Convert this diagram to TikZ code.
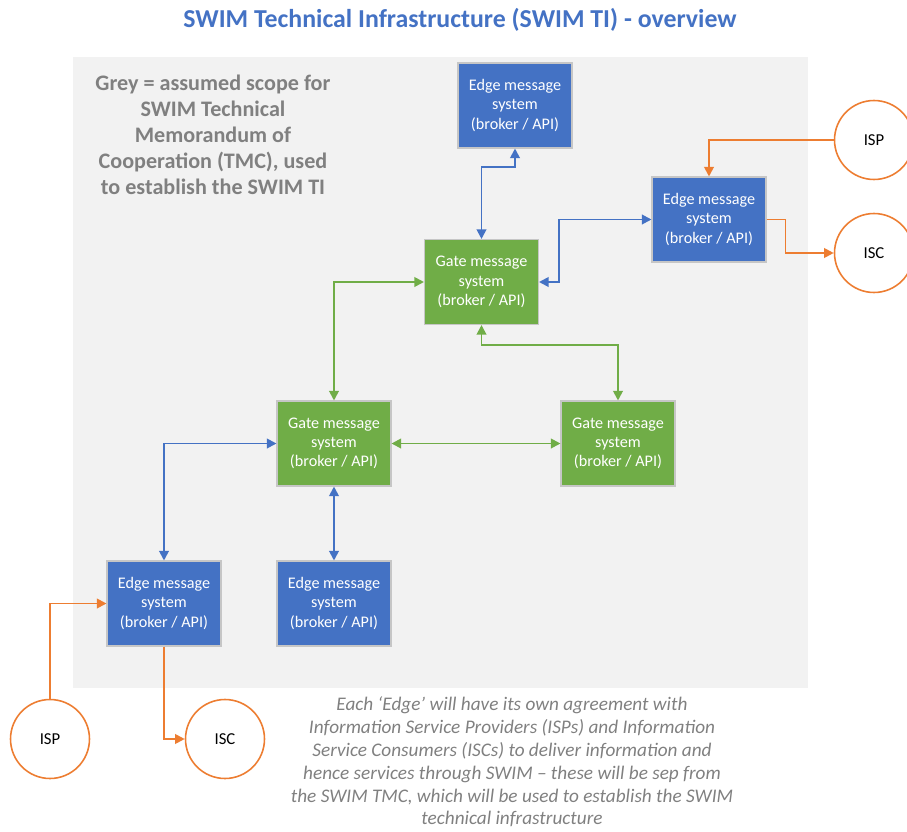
\documentclass[tikz,border=0pt]{standalone}
\usepackage{fontspec}
\setmainfont{Carlito}
\usepackage{tikz}
\usepackage{xcolor}
\usetikzlibrary{arrows.meta}

\definecolor{swimblue}{HTML}{4472C4}
\definecolor{swimgreen}{HTML}{70AD47}
\definecolor{swimorange}{HTML}{ED7D31}
\definecolor{scopegrey}{HTML}{F2F2F2}
\definecolor{notegrey}{HTML}{808080}

\begin{document}
\begin{tikzpicture}[x=0.02cm, y=-0.02cm,
  edgebox/.style={rectangle, fill=swimblue, draw=gray!45, line width=0.6pt, text=white,
    minimum width=2.28cm, minimum height=1.7cm, align=center, inner sep=1pt,
    font=\fontsize{9.2}{10.9}\selectfont},
  gatebox/.style={edgebox, fill=swimgreen},
  party/.style={circle, draw=swimorange, fill=white, line width=0.9pt,
    minimum size=1.58cm, font=\fontsize{9.5}{11}\selectfont},
  bluelink/.style={draw=swimblue, line width=1.1pt, {Triangle[length=5.5pt,width=5.5pt]}-{Triangle[length=5.5pt,width=5.5pt]}},
  greenlink/.style={bluelink, draw=swimgreen},
  orangelink/.style={draw=swimorange, line width=1.1pt, -{Triangle[length=5.5pt,width=5.5pt]}}]

  \useasboundingbox (0,0) rectangle (907,832);

  % grey scope of the TMC
  \fill[scopegrey] (73,57) rectangle (808,688);

  \node[text=swimblue, font=\fontsize{14.7}{17}\selectfont\bfseries] (title) at (460,20)
    {SWIM Technical Infrastructure (SWIM TI) - overview};
  \node[text=notegrey, align=center, font=\fontsize{12.6}{14.8}\selectfont\bfseries] (scope) at (213,135)
    {Grey = assumed scope for\\SWIM Technical\\Memorandum of\\Cooperation (TMC), used\\to establish the SWIM TI};

  \node[edgebox] (edge_top) at (515,105.5) {Edge message\\system\\(broker / API)};
  \node[gatebox] (gate_top) at (481.5,282) {Gate message\\system\\(broker / API)};
  \node[edgebox] (edge_right) at (709,219.5) {Edge message\\system\\(broker / API)};
  \node[gatebox] (gate_left) at (334,443.5) {Gate message\\system\\(broker / API)};
  \node[gatebox] (gate_right) at (618,443.5) {Gate message\\system\\(broker / API)};
  \node[edgebox] (edge_mid) at (334,603.5) {Edge message\\system\\(broker / API)};
  \node[edgebox] (edge_left) at (164,603.5) {Edge message\\system\\(broker / API)};

  \node[party] (isp_right) at (874,140) {ISP};
  \node[party] (isc_right) at (874,253) {ISC};
  \node[party] (isp_left) at (50,739) {ISP};
  \node[party] (isc_left) at (225,739) {ISC};

  \draw[bluelink] (gate_top.north) -- ++(0,-72) -| (edge_top.south);
  \draw[bluelink] (gate_top.east) -- ++(20,0) |- (edge_right.west);
  \draw[greenlink] (gate_top.west) -| (gate_left.north);
  \draw[greenlink] (gate_top.south) -- ++(0,20) -| (gate_right.north);
  \draw[greenlink] (gate_left.east) -- (gate_right.west);
  \draw[bluelink] (gate_left.west) -| (edge_left.north);
  \draw[bluelink] (gate_left.south) -- (edge_mid.north);

  \draw[orangelink] (isp_right.west) -| (edge_right.north);
  \draw[orangelink] (edge_right.east) -- ++(19,0) |- (isc_right.west);
  \draw[orangelink] (isp_left.north) |- (edge_left.west);
  \draw[orangelink] (edge_left.south) |- (isc_left.west);

  \node[text=notegrey, align=center, font=\fontsize{10.95}{13}\selectfont\itshape] (note) at (512,762)
    {Each ‘Edge’ will have its own agreement with\\Information Service Providers (ISPs) and Information\\Service Consumers (ISCs) to deliver information and\\hence services through SWIM – these will be sep from\\the SWIM TMC, which will be used to establish the SWIM\\technical infrastructure};
\end{tikzpicture}
\end{document}
